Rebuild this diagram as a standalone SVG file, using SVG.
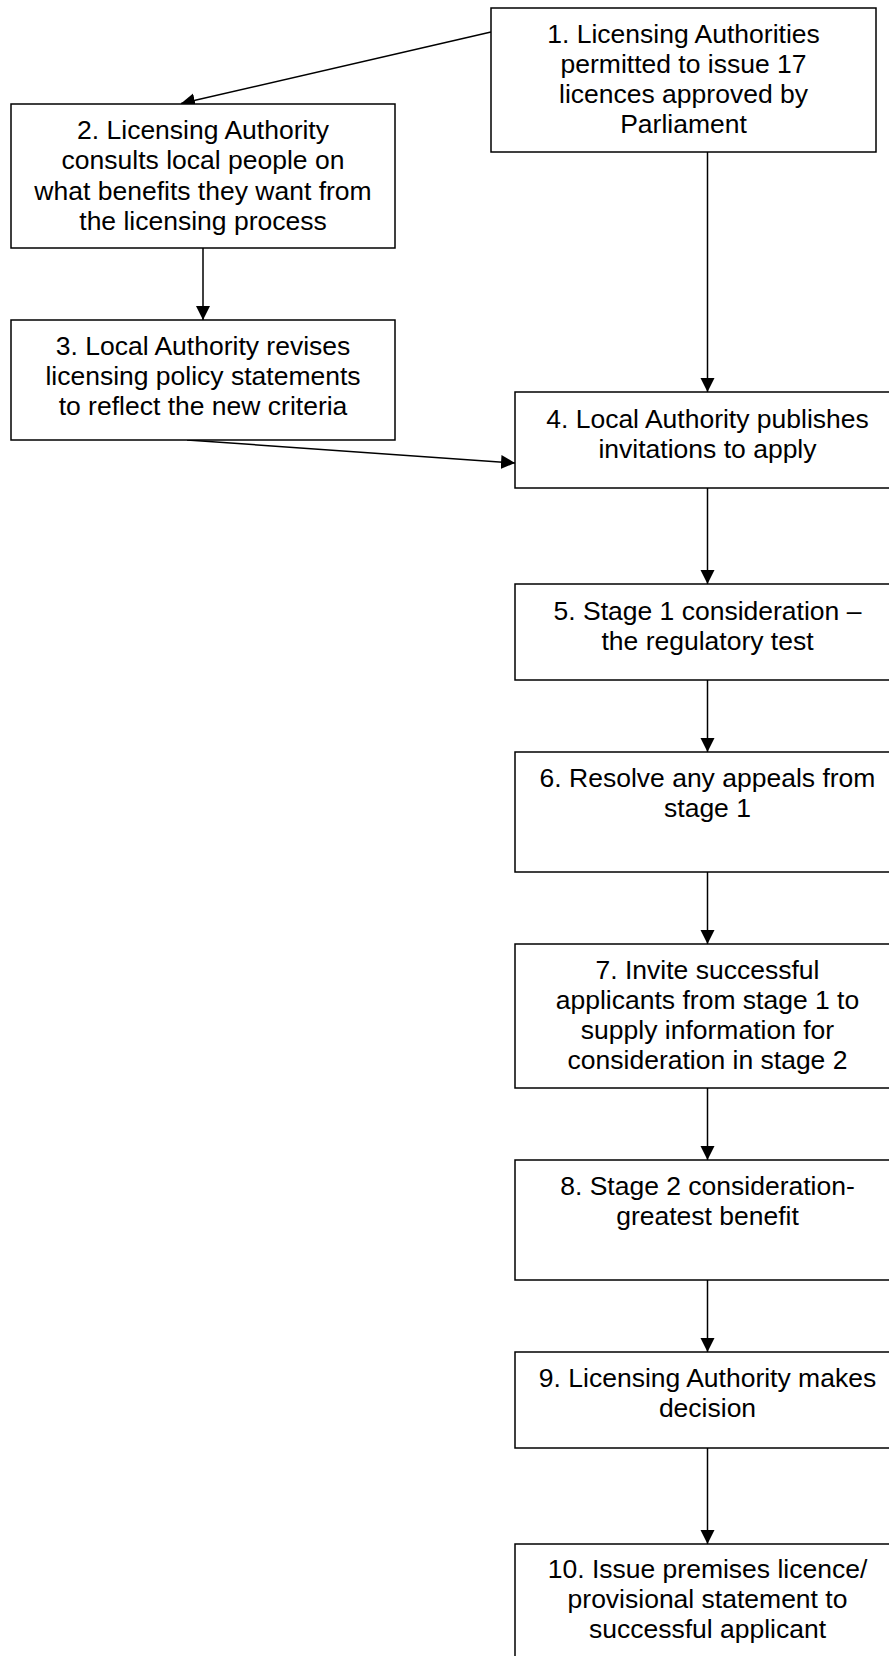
<svg xmlns="http://www.w3.org/2000/svg" width="889" height="1656" viewBox="0 0 889 1656">
<style>
.box{fill:#fff;stroke:#000;stroke-width:1.5}
.t{font-family:"Liberation Sans",Arial,sans-serif;font-size:26.5px;fill:#000;text-anchor:middle}
.c{stroke:#000;stroke-width:1.5;fill:none}
</style>
<defs>
<marker id="ah" markerUnits="userSpaceOnUse" markerWidth="16" markerHeight="16" refX="14" refY="7" orient="auto">
<path d="M0,0 L14,7 L0,14 z" fill="#000"/>
</marker>
</defs>
<rect width="889" height="1656" fill="#fff"/>
<g id="connectors">
<line class="c" x1="491" y1="32" x2="181" y2="103.5" marker-end="url(#ah)"/>
<line class="c" x1="203" y1="248" x2="203" y2="320" marker-end="url(#ah)"/>
<line class="c" x1="707.5" y1="152" x2="707.5" y2="392" marker-end="url(#ah)"/>
<line class="c" x1="187" y1="440" x2="515" y2="463" marker-end="url(#ah)"/>
<line class="c" x1="707.5" y1="488" x2="707.5" y2="584" marker-end="url(#ah)"/>
<line class="c" x1="707.5" y1="680" x2="707.5" y2="752" marker-end="url(#ah)"/>
<line class="c" x1="707.5" y1="872" x2="707.5" y2="944" marker-end="url(#ah)"/>
<line class="c" x1="707.5" y1="1088" x2="707.5" y2="1160" marker-end="url(#ah)"/>
<line class="c" x1="707.5" y1="1280" x2="707.5" y2="1352" marker-end="url(#ah)"/>
<line class="c" x1="707.5" y1="1448" x2="707.5" y2="1544" marker-end="url(#ah)"/>
</g>
<g id="n1">
<rect class="box" x="491" y="8" width="385" height="144"/>
<text class="t" x="683.5" y="43">1. Licensing Authorities</text>
<text class="t" x="683.5" y="73">permitted to issue 17</text>
<text class="t" x="683.5" y="103">licences approved by</text>
<text class="t" x="683.5" y="133">Parliament</text>
</g>
<g id="n2">
<rect class="box" x="11" y="104" width="384" height="144"/>
<text class="t" x="203" y="138.5">2. Licensing Authority</text>
<text class="t" x="203" y="169">consults local people on</text>
<text class="t" x="203" y="199.5">what benefits they want from</text>
<text class="t" x="203" y="230">the licensing process</text>
</g>
<g id="n3">
<rect class="box" x="11" y="320" width="384" height="120"/>
<text class="t" x="203" y="355">3. Local Authority revises</text>
<text class="t" x="203" y="385">licensing policy statements</text>
<text class="t" x="203" y="415">to reflect the new criteria</text>
</g>
<g id="n4">
<rect class="box" x="515" y="392" width="384" height="96"/>
<text class="t" x="707.5" y="428">4. Local Authority publishes</text>
<text class="t" x="707.5" y="458">invitations to apply</text>
</g>
<g id="n5">
<rect class="box" x="515" y="584" width="384" height="96"/>
<text class="t" x="707.5" y="619.5">5. Stage 1 consideration –</text>
<text class="t" x="707.5" y="649.5">the regulatory test</text>
</g>
<g id="n6">
<rect class="box" x="515" y="752" width="384" height="120"/>
<text class="t" x="707.5" y="787">6. Resolve any appeals from</text>
<text class="t" x="707.5" y="817">stage 1</text>
</g>
<g id="n7">
<rect class="box" x="515" y="944" width="384" height="144"/>
<text class="t" x="707.5" y="978.5">7. Invite successful</text>
<text class="t" x="707.5" y="1008.5">applicants from stage 1 to</text>
<text class="t" x="707.5" y="1038.5">supply information for</text>
<text class="t" x="707.5" y="1068.5">consideration in stage 2</text>
</g>
<g id="n8">
<rect class="box" x="515" y="1160" width="384" height="120"/>
<text class="t" x="707.5" y="1195">8. Stage 2 consideration-</text>
<text class="t" x="707.5" y="1225">greatest benefit</text>
</g>
<g id="n9">
<rect class="box" x="515" y="1352" width="384" height="96"/>
<text class="t" x="707.5" y="1387">9. Licensing Authority makes</text>
<text class="t" x="707.5" y="1417">decision</text>
</g>
<g id="n10">
<rect class="box" x="515" y="1544" width="384" height="130"/>
<text class="t" x="707.5" y="1578">10. Issue premises licence/</text>
<text class="t" x="707.5" y="1608">provisional statement to</text>
<text class="t" x="707.5" y="1638">successful applicant</text>
</g>
</svg>
